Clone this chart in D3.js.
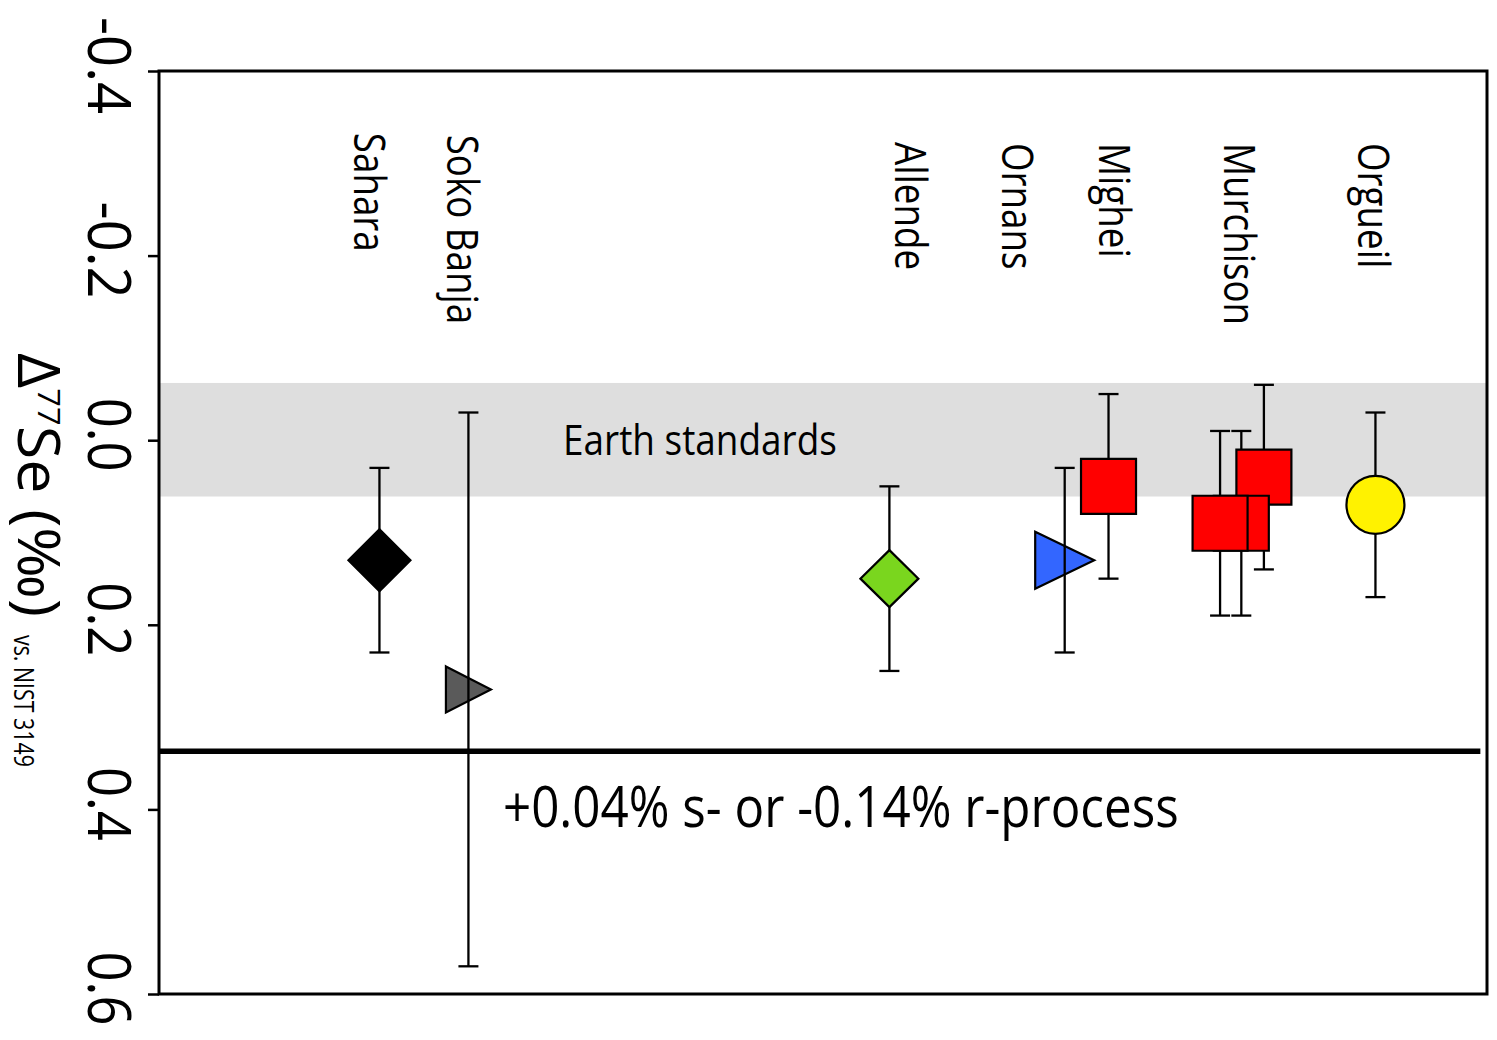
<!DOCTYPE html>
<html>
<head>
<meta charset="utf-8">
<script src="https://cdn.jsdelivr.net/npm/d3@7"></script>
<style>
  html, body { margin: 0; padding: 0; background: #fff; }
  svg { display: block; }
  text { font-family: "Open Sans", "Noto Sans", sans-serif; fill: #000; }
</style>
</head>
<body>
<svg id="chart" width="1497" height="1040"></svg>
<script>
// ---------------- data ----------------
const yTicks = [-0.4, -0.2, 0.0, 0.2, 0.4, 0.6];

// points (Murchison drawn back-to-front)
const samples = ["Sahara", "Soko Banja", "Allende", "Ornans", "Mighei",
                 "Murchison C", "Murchison B", "Murchison A", "Orgueil"];
const xPos    = [16.6, 23.3, 55.0, 68.2, 71.5, 83.2, 81.5, 79.9, 91.6];
const values  = [0.13, 0.27, 0.15, 0.13, 0.05, 0.04, 0.09, 0.09, 0.07];
const errors  = [0.10, 0.30, 0.10, 0.10, 0.10, 0.10, 0.10, 0.10, 0.10];
const shapes  = ["diamond", "triangle", "diamond", "triangle", "square",
                 "square", "square", "square", "circle"];

// sample labels
const labelNames = ["Sahara", "Soko Banja", "Allende", "Ornans", "Mighei", "Murchison", "Orgueil"];
const labelX     = [15.9, 22.9, 56.6, 64.7, 72.0, 81.4, 91.5];
const labelY     = [-0.333, -0.331, -0.323, -0.322, -0.322, -0.322, -0.322];

// reference features
const earthBand   = [-0.062, 0.061];
const processLine = [0.337];

// ---------------- styles ----------------
const markerStyle = {
  "Sahara":      { fill: "#000000", w: 62, h: 62 },
  "Soko Banja":  { fill: "#5a5a5a", w: 45, h: 46 },
  "Allende":     { fill: "#7ad61e", w: 58, h: 57 },
  "Ornans":      { fill: "#3366ff", w: 59, h: 57 },
  "Mighei":      { fill: "#ff0000", w: 55, h: 55 },
  "Murchison C": { fill: "#ff0000", w: 55, h: 55 },
  "Murchison B": { fill: "#ff0000", w: 55, h: 55 },
  "Murchison A": { fill: "#ff0000", w: 55, h: 55 },
  "Orgueil":     { fill: "#fff200", w: 58, h: 58 }
};

// ---------------- layout ----------------
const svg = d3.select("#chart");
const plot = { left: 159, right: 1487, top: 71, bottom: 994 };

const x = d3.scaleLinear().domain([0, 100]).range([plot.left, plot.right]);
const y = d3.scaleLinear().domain([-0.4, 0.6]).range([plot.top, plot.bottom]);

function fit(sel, target, base) {
  sel.each(function () {
    const len = this.getComputedTextLength();
    const s = len > 0 ? target / len : 1;
    d3.select(this).attr("transform", base + ` scale(${s},1)`);
  });
}

// Earth standards band
svg.append("rect")
  .attr("x", plot.left).attr("width", plot.right - plot.left)
  .attr("y", y(earthBand[0])).attr("height", y(earthBand[1]) - y(earthBand[0]))
  .attr("fill", "#dedede");

// process line
svg.selectAll("line.process").data(processLine).enter().append("line")
  .attr("class", "process")
  .attr("x1", x(0)).attr("x2", x(99.5))
  .attr("y1", d => y(d)).attr("y2", d => y(d))
  .attr("stroke", "#000").attr("stroke-width", 5.5);

// annotations
const earthText = svg.append("text")
  .attr("font-size", 42)
  .text("Earth standards");
fit(earthText, 274, `translate(${x(30.42)},${y(0.016)})`);

const procText = svg.append("text")
  .attr("font-size", 56)
  .text("+0.04% s- or -0.14% r-process");
fit(procText, 676, `translate(${x(25.9)},${y(0.419)})`);

// points
const pts = samples.map((s, i) => ({
  name: s, x: xPos[i], v: values[i], e: errors[i], shape: shapes[i]
}));

function drawErr(g, d) {
  const cx = x(d.x), y1 = y(d.v - d.e), y2 = y(d.v + d.e), cw = 10;
  const eg = g.append("g").attr("stroke", "#000").attr("stroke-width", 2.3).attr("fill", "none");
  eg.append("line").attr("x1", cx).attr("x2", cx).attr("y1", y1).attr("y2", y2);
  eg.append("line").attr("x1", cx - cw).attr("x2", cx + cw).attr("y1", y1).attr("y2", y1);
  eg.append("line").attr("x1", cx - cw).attr("x2", cx + cw).attr("y1", y2).attr("y2", y2);
}

function markerPath(d) {
  const st = markerStyle[d.name];
  const cx = x(d.x), cy = y(d.v), hw = st.w / 2, hh = st.h / 2;
  const p = d3.path();
  if (d.shape === "diamond") {
    p.moveTo(cx, cy - hh); p.lineTo(cx + hw, cy); p.lineTo(cx, cy + hh); p.lineTo(cx - hw, cy); p.closePath();
  } else if (d.shape === "triangle") {
    p.moveTo(cx - hw, cy - hh); p.lineTo(cx + hw, cy); p.lineTo(cx - hw, cy + hh); p.closePath();
  } else if (d.shape === "square") {
    p.rect(cx - hw, cy - hh, st.w, st.h);
  } else {
    p.moveTo(cx + hw, cy); p.arc(cx, cy, hw, 0, 2 * Math.PI); p.closePath();
  }
  return p.toString();
}

const gErr = svg.append("g");
pts.filter(d => d.shape !== "triangle").forEach(d => drawErr(gErr, d));

svg.append("g").selectAll("path").data(pts).enter().append("path")
  .attr("d", markerPath)
  .attr("fill", d => markerStyle[d.name].fill)
  .attr("stroke", "#000")
  .attr("stroke-width", 2.2)
  .attr("stroke-linejoin", "miter");

const gErrTop = svg.append("g");
pts.filter(d => d.shape === "triangle").forEach(d => drawErr(gErrTop, d));

// sample labels (rotated)
svg.append("g").selectAll("text").data(labelNames).enter().append("text")
  .attr("font-size", 44)
  .attr("dy", "0.357em")
  .text(d => d)
  .each(function (d, i) {
    fit(d3.select(this), this.getComputedTextLength() * 0.835,
        `translate(${x(labelX[i])},${y(labelY[i])}) rotate(90)`);
  });

// frame
svg.append("rect")
  .attr("x", plot.left).attr("y", plot.top)
  .attr("width", plot.right - plot.left).attr("height", plot.bottom - plot.top)
  .attr("fill", "none").attr("stroke", "#000").attr("stroke-width", 3);

// y axis
const axis = d3.axisLeft(y).tickValues(yTicks).tickSize(11).tickSizeOuter(0)
  .tickFormat(d => d.toFixed(1));
const gAxis = svg.append("g").attr("transform", `translate(${plot.left},0)`).call(axis);
gAxis.select(".domain").remove();
gAxis.selectAll(".tick line").attr("stroke", "#000").attr("stroke-width", 2.5);
gAxis.selectAll(".tick text")
  .attr("x", 0).attr("y", 0)
  .attr("dy", "0.357em")
  .attr("font-size", 60)
  .attr("font-family", "\"Open Sans\", \"Noto Sans\", sans-serif")
  .attr("fill", "#000")
  .attr("text-anchor", "middle")
  .each(function (d) {
    const target = String(d.toFixed(1)).startsWith("-") ? 97 : 74;
    fit(d3.select(this), target, `translate(${109.5 - plot.left},-6) rotate(90)`);
  });

// y axis title
const yTitle = svg.append("text").attr("font-size", 58);
yTitle.append("tspan").text("\u0394");
yTitle.append("tspan").attr("font-size", 31).attr("dy", -20).text("77");
yTitle.append("tspan").attr("dy", 20).text("Se (\u2030)");
fit(yTitle, 264, `translate(18,353) rotate(90)`);

const ySub = svg.append("text").attr("font-size", 27).text("vs. NIST 3149");
fit(ySub, 132, `translate(14,635) rotate(90)`);
</script>
</body>
</html>
